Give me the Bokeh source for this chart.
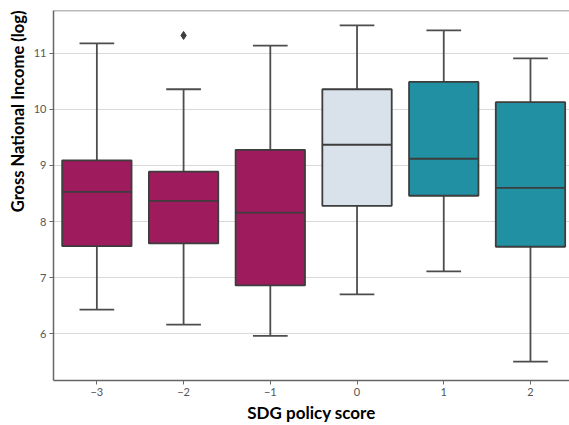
from bokeh.plotting import figure
from bokeh.models import ColumnDataSource, FixedTicker, Range1d, Span, Title
from bokeh.embed import file_html
from bokeh.resources import INLINE

# Data
scores = [-3, -2, -1, 0, 1, 2]
lower = [6.43, 6.16, 5.96, 6.70, 7.11, 5.50]
q1 = [7.56, 7.61, 6.86, 8.28, 8.46, 7.55]
median = [8.53, 8.37, 8.16, 9.37, 9.12, 8.60]
q3 = [9.09, 8.89, 9.28, 10.36, 10.49, 10.13]
upper = [11.18, 10.36, 11.14, 11.50, 11.41, 10.91]
colors = ["#9e1b5e", "#9e1b5e", "#9e1b5e", "#d9e1ea", "#2190a3", "#2190a3"]
outlier_x = [-2]
outlier_y = [11.32]

box_w = 0.8
cap_w = 0.4

src = ColumnDataSource(dict(
    x=scores, lower=lower, q1=q1, med=median, q3=q3, upper=upper, color=colors,
    left=[s - box_w / 2 for s in scores], right=[s + box_w / 2 for s in scores],
    cl=[s - cap_w / 2 for s in scores], cr=[s + cap_w / 2 for s in scores],
))

p = figure(width=569, height=425, output_backend="svg", toolbar_location=None,
           x_range=Range1d(-3.5, 2.45), y_range=Range1d(5.164, 11.765),
           min_border_left=53, min_border_top=10, min_border_right=0, min_border_bottom=10)

line_col = "#4d4d4d"
# whiskers
p.segment(x0="x", y0="q3", x1="x", y1="upper", source=src, line_color=line_col, line_width=1.8)
p.segment(x0="x", y0="q1", x1="x", y1="lower", source=src, line_color=line_col, line_width=1.8)
p.segment(x0="cl", y0="upper", x1="cr", y1="upper", source=src, line_color=line_col, line_width=1.8)
p.segment(x0="cl", y0="lower", x1="cr", y1="lower", source=src, line_color=line_col, line_width=1.8)
# boxes
p.quad(left="left", right="right", bottom="q1", top="q3", source=src,
       fill_color="color", line_color="#3d3d3d", line_width=1.8)
p.segment(x0="left", y0="med", x1="right", y1="med", source=src, line_color="#3d3d3d", line_width=1.8)
# outlier
p.scatter(outlier_x, outlier_y, marker="diamond", size=8, fill_color="#3d3d3d", line_color="#3d3d3d")

p.outline_line_color = None
p.add_layout(Span(location=11.765, dimension="width", line_color="#777777", line_width=1.5))

p.xgrid.grid_line_color = None
p.ygrid.grid_line_color = "#d9d9d9"
p.ygrid.grid_line_width = 1.2

p.xaxis.ticker = FixedTicker(ticks=scores)
p.yaxis.ticker = FixedTicker(ticks=[6, 7, 8, 9, 10, 11])
p.xaxis.minor_tick_line_color = None
p.yaxis.minor_tick_line_color = None

for ax in (p.xaxis, p.yaxis):
    ax.axis_line_color = "#666666"
    ax.axis_line_width = 1.5
    ax.major_tick_line_color = "#666666"
    ax.major_tick_in = 0
    ax.major_tick_out = 4
    ax.major_label_text_font = "Lato"
    ax.major_label_text_font_size = "11px"
    ax.major_label_text_color = "#555555"
    ax.major_label_standoff = 3

p.xaxis.axis_label = "SDG policy score"
p.xaxis.axis_label_text_font = "Lato"
p.xaxis.axis_label_text_font_style = "bold"
p.xaxis.axis_label_text_font_size = "17px"
p.xaxis.axis_label_text_color = "#000000"
p.xaxis.axis_label_standoff = 3

ytitle = Title(text="Gross National Income (log)", align="right",
               text_font="Lato", text_font_style="bold", text_font_size="16.5px",
               text_color="#000000", standoff=5)
p.add_layout(ytitle, "left")

open("out.html", "w").write(file_html(p, INLINE))
